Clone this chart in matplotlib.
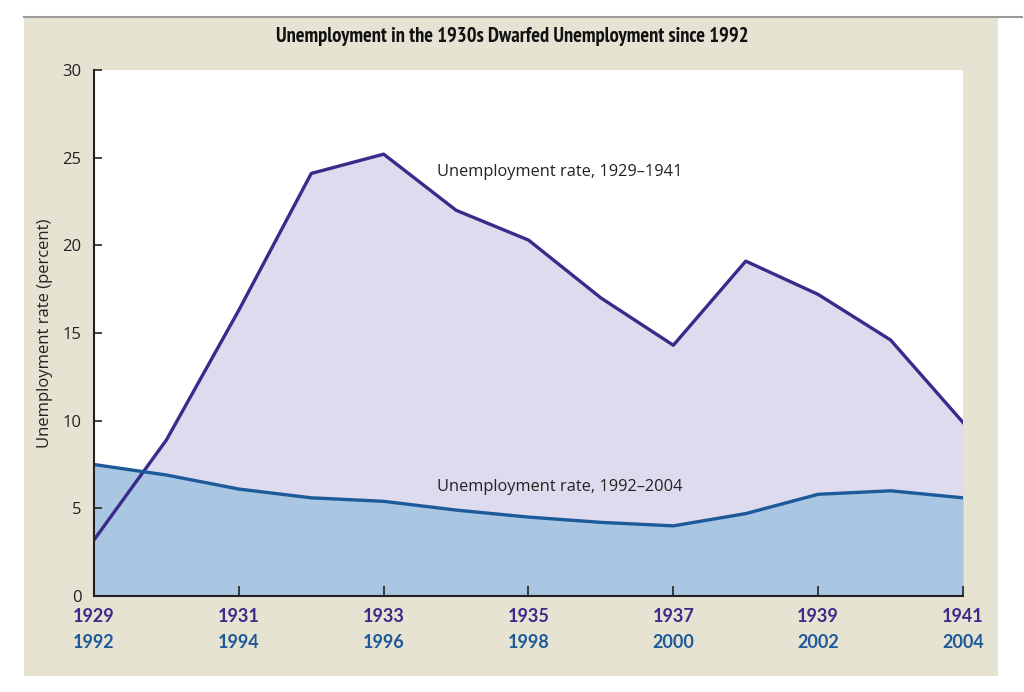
import numpy as np
import matplotlib.pyplot as plt
from matplotlib.patches import Rectangle
from matplotlib.lines import Line2D
import matplotlib.transforms as mtransforms

years_30s = [1929, 1930, 1931, 1932, 1933, 1934, 1935, 1936, 1937, 1938, 1939, 1940, 1941]
years_90s = [1992, 1993, 1994, 1995, 1996, 1997, 1998, 1999, 2000, 2001, 2002, 2003, 2004]
rate_30s = [3.2, 8.9, 16.3, 24.1, 25.2, 22.0, 20.3, 17.0, 14.3, 19.1, 17.2, 14.6, 9.9]
rate_90s = [7.5, 6.9, 6.1, 5.6, 5.4, 4.9, 4.5, 4.2, 4.0, 4.7, 5.8, 6.0, 5.6]
tick_top = ['1929', '1931', '1933', '1935', '1937', '1939', '1941']
tick_bottom = ['1992', '1994', '1996', '1998', '2000', '2002', '2004']

purple = '#3a2b8a'
blue = '#1c5a9a'
beige = '#e7e3d3'
body_font = ['Open Sans', 'DejaVu Sans']
num_font = ['Lato', 'DejaVu Sans']

fig = plt.figure(figsize=(10.24, 6.92), dpi=100)
fig.patch.set_facecolor('white')

# beige panel + gray rule on top
fig.patches.append(Rectangle((24/1024, 1 - 676/692), (998-24)/1024, (676-17)/692,
                             transform=fig.transFigure, facecolor=beige, edgecolor='none', zorder=-5))
fig.lines.append(Line2D([24/1024, 1022/1024], [1 - 17/692, 1 - 17/692], transform=fig.transFigure,
                        color='#9a9a9a', lw=1.5, zorder=-4))

ax = fig.add_axes([94/1024, 1 - 596/692, 869/1024, 526/692])
ax.set_facecolor('white')

x = np.array(years_30s)
ax.fill_between(x, rate_30s, 0, color='#dfdbef', lw=0)
ax.fill_between(x, rate_90s, 0, color='#a9c6e3', lw=0)
ax.plot(x, rate_30s, color=purple, lw=2.4)
ax.plot(x, rate_90s, color=blue, lw=2.4)

ax.set_xlim(1929, 1941)
ax.set_ylim(0, 30)
ax.set_yticks(range(0, 31, 5))
ax.set_xticks(x[::2])
ax.set_xticklabels([])
ax.tick_params(axis='y', direction='in', length=6, width=1.2, labelsize=12, pad=9, colors='#222222')
ax.tick_params(axis='x', direction='in', length=7, width=1.2, colors='#222222')
for lab in ax.get_yticklabels():
    lab.set_family(body_font)
for s in ['top', 'right']:
    ax.spines[s].set_visible(False)
for s in ['left', 'bottom']:
    ax.spines[s].set_linewidth(1.5)
    ax.spines[s].set_color('#222222')

trans = mtransforms.blended_transform_factory(ax.transData, ax.transAxes)
for i, yr in enumerate(x[::2]):
    ax.text(yr, -21/526, tick_top[i], transform=trans, ha='center', va='center',
            fontsize=13, fontweight='bold', color=purple, family=num_font)
    ax.text(yr, -46/526, tick_bottom[i], transform=trans, ha='center', va='center',
            fontsize=13, fontweight='bold', color=blue, family=num_font)

ax.set_ylabel('Unemployment rate (percent)', fontsize=12, color='#222222', labelpad=7,
              family=body_font)

ax.text(1933.74, 24.2, 'Unemployment rate, 1929\u20131941', fontsize=11.8, color='#222222',
        ha='left', va='center', family=body_font)
ax.text(1933.74, 6.2, 'Unemployment rate, 1992\u20132004', fontsize=11.8, color='#222222',
        ha='left', va='center', family=body_font)

fig.text(0.5, 1 - 36/692, 'Unemployment in the 1930s Dwarfed Unemployment since 1992',
         ha='center', va='center', fontsize=14.8, fontweight='bold', color='#111111',
         family=['PT Sans Narrow', 'DejaVu Sans'])

fig.savefig('out.png', dpi=100)
